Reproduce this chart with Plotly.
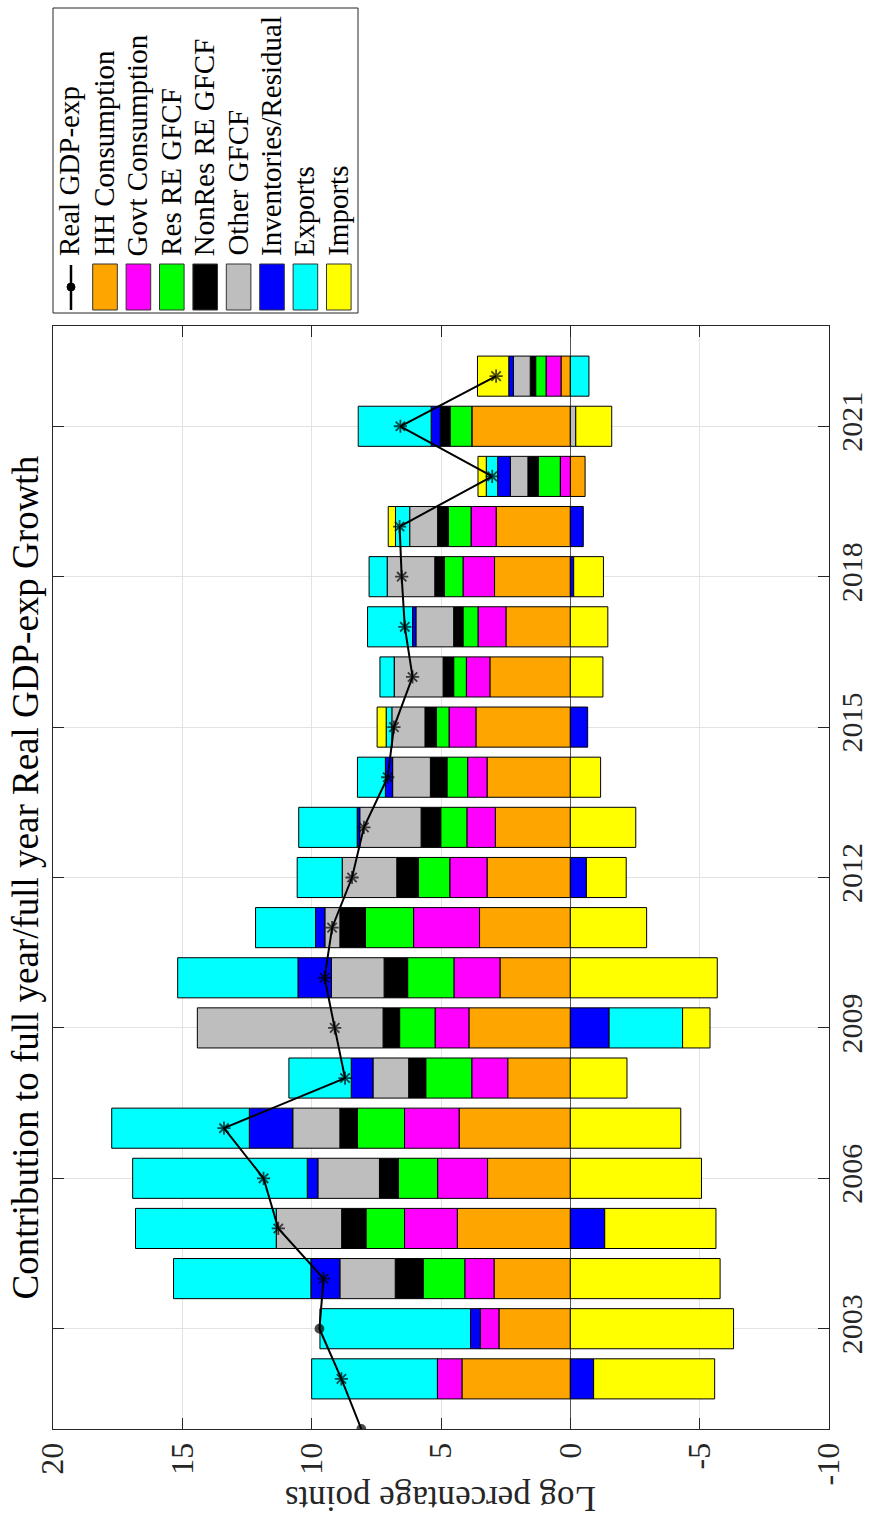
import plotly.graph_objects as go

# ---------------- data ----------------
years = list(range(2002, 2023))

hh_cons = [4.19, 2.76, 2.95, 4.37, 3.20, 4.30, 2.42, 3.92, 2.72, 3.51, 3.22,
           2.90, 3.22, 3.65, 3.11, 2.49, 2.93, 2.87, -0.57, 3.81, 0.36]
govt_cons = [0.95, 0.73, 1.13, 2.04, 1.93, 2.11, 1.39, 1.31, 1.78, 2.55, 1.44,
             1.10, 0.75, 1.04, 0.91, 1.08, 1.22, 0.97, 0.39, 0.0, 0.58]
res_re = [0.0, 0.0, 1.61, 1.49, 1.52, 1.82, 1.78, 1.37, 1.79, 1.86, 1.21,
          1.01, 0.80, 0.49, 0.49, 0.58, 0.72, 0.88, 0.85, 0.84, 0.40]
nonres_re = [0.0, 0.0, 1.08, 0.94, 0.73, 0.68, 0.66, 0.64, 0.91, 0.99, 0.84,
             0.76, 0.64, 0.44, 0.41, 0.36, 0.37, 0.41, 0.40, 0.38, 0.21]
other_gfcf = [0.0, 0.0, 2.14, 2.53, 2.38, 1.82, 1.38, 7.18, 2.04, 0.58, 2.11,
              2.37, 1.46, 1.28, 1.89, 1.46, 1.84, 1.08, 0.68, -0.21, 0.65]
inventories = [-0.90, 0.37, 1.12, -1.33, 0.41, 1.68, 0.84, -1.50, 1.29, 0.36, -0.62,
               0.10, 0.28, -0.67, 0.0, 0.13, -0.13, -0.50, 0.49, 0.35, 0.18]
exports = [4.86, 5.82, 5.31, 5.44, 6.75, 5.32, 2.41, -2.84, 4.65, 2.32, 1.74,
           2.26, 1.08, 0.22, 0.55, 1.74, 0.70, 0.55, 0.44, 2.82, -0.72]
imports = [-4.68, -6.31, -5.79, -4.30, -5.07, -4.27, -2.19, -1.06, -5.68, -2.95, -1.54,
           -2.53, -1.17, 0.35, -1.26, -1.45, -1.15, 0.28, 0.32, -1.39, 1.21]

gdp_years = list(range(2001, 2023))
gdp_growth = [8.08, 8.85, 9.70, 9.54, 11.29, 11.86, 13.39, 8.71, 9.11, 9.50, 9.21,
              8.44, 7.98, 7.06, 6.82, 6.10, 6.40, 6.52, 6.60, 3.02, 6.57, 2.87]

series_names = ["HH Consumption", "Govt Consumption", "Res RE GFCF", "NonRes RE GFCF",
                "Other GFCF", "Inventories/Residual", "Exports", "Imports"]
series_vals = [hh_cons, govt_cons, res_re, nonres_re, other_gfcf, inventories, exports, imports]
series_colors = ["#FFA500", "#FF00FF", "#00FF00", "#000000",
                 "#BEBEBE", "#0000FF", "#00FFFF", "#FFFF00"]

title_text = "Contribution to full year/full year Real GDP-exp Growth"
value_label = "Log percentage points"
value_ticks = [20, 15, 10, 5, 0, -5, -10]
value_tick_text = ["20", "15", "10", "5", "0", "-5", "-10"]
year_ticks = [2003, 2006, 2009, 2012, 2015, 2018, 2021]

FONT = "Liberation Serif"

# ---------------- layout geometry (pixels) ----------------
W, H = 869, 1522
L, R, T, B = 53, 40, 326, 93
PW, PH = W - L - R, H - T - B


def px(x):
    return (x - L) / PW


def py(y):
    return (H - B - y) / PH


fig = go.Figure()

for name, vals, col in zip(series_names, series_vals, series_colors):
    fig.add_trace(go.Bar(
        x=vals, y=years, orientation="h", name=name,
        marker=dict(color=col, line=dict(color="#000000", width=1)),
        showlegend=False,
    ))

symbols = ["circle" if y in (2001, 2003) else "asterisk-open" for y in gdp_years]
sizes = [8 if y in (2001, 2003) else 11 for y in gdp_years]
fig.add_trace(go.Scatter(
    x=gdp_growth, y=gdp_years, mode="lines+markers", name="Real GDP-exp",
    line=dict(color="#000000", width=2),
    marker=dict(symbol=symbols, size=sizes, color="#000000",
                line=dict(color="#000000", width=1.8)),
    showlegend=False,
))

fig.update_layout(
    width=W, height=H,
    margin=dict(l=L, r=R, t=T, b=B, pad=0, autoexpand=False),
    paper_bgcolor="white", plot_bgcolor="white",
    barmode="relative", bargap=0.2,
    font=dict(family=FONT, size=30, color="#000000"),
    showlegend=False,
)

fig.update_xaxes(
    range=[20, -10], tickvals=value_ticks, ticktext=value_tick_text, tickangle=-90,
    ticks="inside", ticklen=11, tickcolor="#262626", mirror="ticks",
    showline=True, linecolor="#262626", linewidth=1,
    showgrid=True, gridcolor="#E3E3E3", gridwidth=1,
    zeroline=True, zerolinecolor="#555555", zerolinewidth=1.2,
    tickfont=dict(family=FONT, size=32, color="#262626"),
    automargin=False,
)
fig.update_yaxes(
    range=[2001, 2023], tickvals=year_ticks, tickangle=-90, side="right",
    ticks="inside", ticklen=11, tickcolor="#262626", mirror="ticks",
    showline=True, linecolor="#262626", linewidth=1,
    showgrid=True, gridcolor="#E3E3E3", gridwidth=1, zeroline=False,
    tickfont=dict(family=FONT, size=30, color="#262626"),
    ticklabelstandoff=-4,
    automargin=False,
)

annotations = [
    dict(text=title_text, x=px(25), y=0.5, xref="paper", yref="paper",
         textangle=-90, showarrow=False, xanchor="center", yanchor="middle",
         font=dict(family=FONT, size=37, color="#000000")),
    dict(text=value_label, x=0.5, y=py(1499), xref="paper", yref="paper",
         textangle=180, showarrow=False, xanchor="center", yanchor="middle",
         font=dict(family=FONT, size=35, color="#262626")),
]

shapes = [
    dict(type="rect", xref="paper", yref="paper",
         x0=px(53), x1=px(358), y0=py(313), y1=py(8),
         line=dict(color="#262626", width=1), fillcolor="white", layer="above"),
]

# legend: GDP line sample
gdp_cx = 71
shapes.append(dict(type="line", xref="paper", yref="paper",
                   x0=px(gdp_cx), x1=px(gdp_cx), y0=py(310), y1=py(265),
                   line=dict(color="#000000", width=2.5), layer="above"))
shapes.append(dict(type="circle", xref="paper", yref="paper",
                   x0=px(gdp_cx - 4), x1=px(gdp_cx + 4), y0=py(291), y1=py(283),
                   fillcolor="#000000", line=dict(color="#000000", width=1), layer="above"))
annotations.append(dict(text="Real GDP-exp", x=px(gdp_cx - 2), y=py(258), xref="paper", yref="paper",
                        textangle=-90, showarrow=False, xanchor="center", yanchor="bottom",
                        font=dict(family=FONT, size=29, color="#000000")))

for i, (name, col) in enumerate(zip(series_names, series_colors)):
    cx = 105 + 33.4 * i
    shapes.append(dict(type="rect", xref="paper", yref="paper",
                       x0=px(cx - 12.3), x1=px(cx + 12.3), y0=py(310), y1=py(264),
                       fillcolor=col, line=dict(color="#333333", width=1), layer="above"))
    annotations.append(dict(text=name, x=px(cx - 1), y=py(258), xref="paper", yref="paper",
                            textangle=-90, showarrow=False, xanchor="center", yanchor="bottom",
                            font=dict(family=FONT, size=29, color="#000000")))

fig.update_layout(annotations=annotations, shapes=shapes)

fig.write_html("out.html")
